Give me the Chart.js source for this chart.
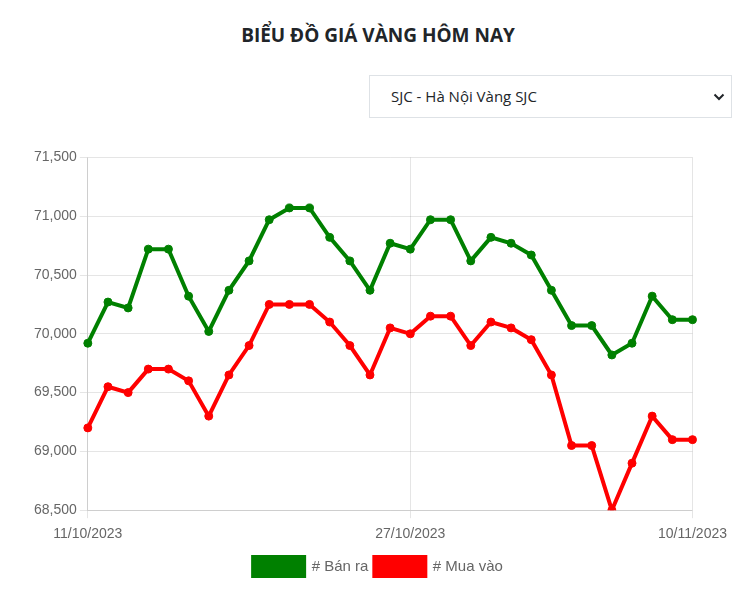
<!DOCTYPE html>
<html lang="vi">
<head>
<meta charset="utf-8">
<title>Biểu đồ giá vàng hôm nay</title>
<script src="https://cdn.jsdelivr.net/npm/chart.js@4.4.0/dist/chart.umd.min.js"></script>
<style>
  html, body { margin: 0; padding: 0; background: #fff; }
  body { width: 737px; height: 593px; position: relative; overflow: hidden; font-family: "Open Sans", sans-serif; }
  .title {
    position: absolute; left: 0; top: 22px; width: 756px; text-align: center;
    font-size: 19px; font-weight: 700; color: #212529;
  }
  .picker {
    position: absolute; left: 369px; top: 75px; width: 363px; height: 43px;
    border: 1px solid #dee2e6; box-sizing: border-box;
    font-size: 15px; color: #212529; line-height: 41px; padding-left: 21px;
  }
  .picker svg { position: absolute; right: 6px; top: 16px; }
  .wrap { position: absolute; left: 25px; top: 146px; width: 710px; height: 440px; }
</style>
</head>
<body>
<div class="title">BIỂU ĐỒ GIÁ VÀNG HÔM NAY</div>
<div class="picker">SJC - Hà Nội Vàng SJC
  <svg width="12" height="10" viewBox="0 0 12 10"><path d="M1.5 2.5 L6 7 L10.5 2.5" fill="none" stroke="#212529" stroke-width="2"/></svg>
</div>
<div class="wrap"><canvas id="dashboard"></canvas></div>
<script>
const labels = [
  "11/10/2023", "12/10/2023", "13/10/2023", "14/10/2023", "15/10/2023", "16/10/2023",
  "17/10/2023", "18/10/2023", "19/10/2023", "20/10/2023", "21/10/2023", "22/10/2023",
  "23/10/2023", "24/10/2023", "25/10/2023", "26/10/2023", "27/10/2023", "28/10/2023",
  "29/10/2023", "30/10/2023", "31/10/2023", "01/11/2023", "02/11/2023", "03/11/2023",
  "04/11/2023", "05/11/2023", "06/11/2023", "07/11/2023", "08/11/2023", "09/11/2023",
  "10/11/2023",
];

const banRa = [
  69920, 70270, 70220, 70720, 70720, 70320, 70020, 70370, 70620, 70970, 71070,
  71070, 70820, 70620, 70370, 70770, 70720, 70970, 70970, 70620, 70820, 70770,
  70670, 70370, 70070, 70070, 69820, 69920, 70320, 70120, 70120,
];

const muaVao = [
  69200, 69550, 69500, 69700, 69700, 69600, 69300, 69650, 69900, 70250, 70250,
  70250, 70100, 69900, 69650, 70050, 70000, 70150, 70150, 69900, 70100, 70050,
  69950, 69650, 69050, 69050, 68500, 68900, 69300, 69100, 69100,
];

// chỉ hiện nhãn ngày đầu, giữa, cuối
const shownTicks = [0, 16, 30];

const data = {
  labels: labels,
  datasets: [
    {
      label: "# Bán ra",
      backgroundColor: "green",
      borderColor: "green",
      borderWidth: 4,
      pointRadius: 4,
      pointBorderWidth: 1,
      pointBackgroundColor: "green",
      data: banRa,
    },
    {
      label: "# Mua vào",
      backgroundColor: "red",
      borderColor: "red",
      borderWidth: 4,
      pointRadius: 4,
      pointBorderWidth: 1,
      pointBackgroundColor: "red",
      data: muaVao,
    },
  ],
};

const option = {
  responsive: true,
  maintainAspectRatio: false,
  animation: false,
  layout: {
    padding: { left: 6, right: 10 },
  },
  plugins: {
    legend: {
      position: "bottom",
      labels: {
        boxWidth: 51,
        boxHeight: 19,
        padding: 6,
        font: { size: 15 },
        color: "#666",
      },
    },
    tooltip: { enabled: false },
  },
  scales: {
    x: {
      grid: {
        color: (ctx) => (shownTicks.includes(ctx.index) ? "rgba(0,0,0,0.1)" : "transparent"),
      },
      ticks: {
        autoSkip: false,
        maxRotation: 0,
        padding: 8,
        font: { size: 14 },
        color: "#666",
        callback: function (value, index) {
          return shownTicks.includes(index) ? this.getLabelForValue(value) : "";
        },
      },
    },
    y: {
      min: 68500,
      max: 71500,
      ticks: {
        stepSize: 500,
        font: { size: 14 },
        color: "#666",
      },
    },
  },
};

const config = {
  type: "line",
  data: data,
  options: option,
};

const dashboard = new Chart(document.getElementById("dashboard"), config);
</script>
</body>
</html>
